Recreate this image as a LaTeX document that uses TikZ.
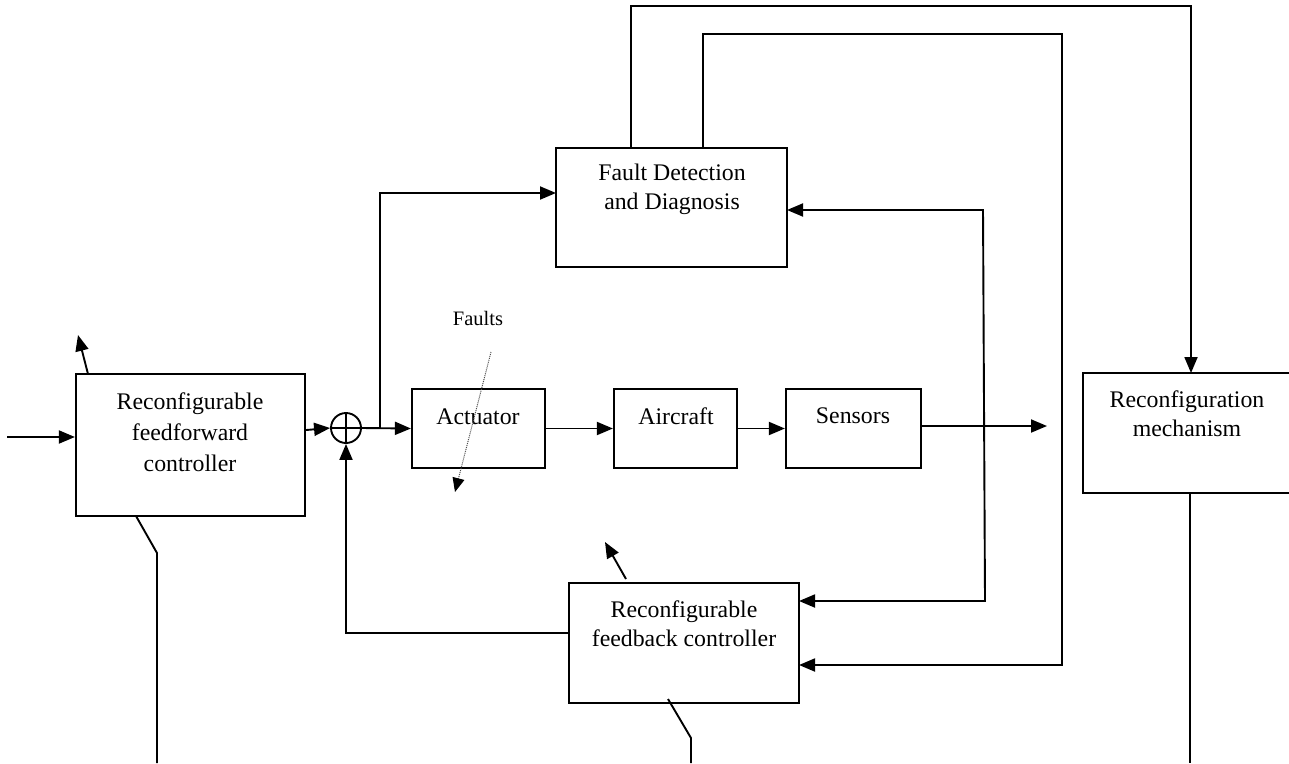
\documentclass[tikz,border=0pt]{standalone}
\usepackage{fontspec}
\setmainfont{Liberation Serif}
\usetikzlibrary{arrows.meta,calc}
\begin{document}
\begin{tikzpicture}[x=1pt,y=-1pt,
  box/.style={draw,line width=2.2pt,rectangle,inner sep=0pt},
  lbl/.style={align=center,inner sep=0pt,font=\fontsize{23.8}{29}\selectfont},
  wire/.style={line width=1.9pt},
  arr/.style={wire,-{Triangle[length=16pt,width=13pt]}},
  tip/.style={Triangle[length=16pt,width=13pt]}]
\useasboundingbox (0,0) rectangle (1289,763);
% boxes
\node[box,minimum width=229pt,minimum height=142pt] (ff) at (190.5,445) {};
\node[box,minimum width=231pt,minimum height=119pt] (fdd) at (671.5,207.5) {};
\node[box,minimum width=133pt,minimum height=79pt] (act) at (478.5,428.5) {};
\node[box,minimum width=123pt,minimum height=79pt] (air) at (675.5,428.5) {};
\node[box,minimum width=135pt,minimum height=79pt] (sen) at (853.5,428.5) {};
\node[box,minimum width=230pt,minimum height=120pt] (fb) at (684,643) {};
\node[box,minimum width=208pt,minimum height=120pt] (rm) at (1187,433) {};
\node[draw,line width=1.9pt,circle,minimum size=30pt,inner sep=0pt] (sum) at (346,428) {};
\draw[line width=1.9pt] (sum.north) -- (sum.south) (sum.west) -- (sum.east);
% labels
\node[lbl,font=\fontsize{23.8}{31}\selectfont] (tff) at (190,432) {Reconfigurable\\feedforward\\controller};
\node[lbl] (tfdd) at (672,189) {Fault Detection\\and Diagnosis};
\node[lbl] (tact) at (478,417) {Actuator};
\node[lbl] (tair) at (676,416) {Aircraft};
\node[lbl] (tsen) at (853,416) {Sensors};
\node[lbl] (tfb) at (684,624) {Reconfigurable\\feedback controller};
\node[lbl] (trm) at (1187,414) {Reconfiguration\\mechanism};
\node[lbl,font=\fontsize{20.5}{24}\selectfont] (tfaults) at (478,318) {Faults};
% coordinates
\coordinate (in) at (7,437);
\coordinate (br) at (380,428);
\coordinate (fddin) at (556,193);
\coordinate (out) at (1047,426);
\coordinate (o1) at (631,148);
\coordinate (o2) at (1191,6);
\coordinate (rmin) at (1191,373);
\coordinate (i1) at (703,148);
\coordinate (i2) at (1062,34);
\coordinate (i3) at (1062,665);
\coordinate (fbin2) at (799,665);
\coordinate (fddr) at (787,210);
\coordinate (l1) at (983,210);
\coordinate (l2) at (985,601);
\coordinate (fbin1) at (799,601);
\coordinate (fbout) at (569,633);
\coordinate (rmout) at (1190,493);
\coordinate (rmend) at (1190,763);
\coordinate (ffb1) at (136,516);
\coordinate (ffb2) at (157,553);
\coordinate (ffb3) at (157,763);
\coordinate (fbb1) at (668,699);
\coordinate (fbb2) at (691,738);
\coordinate (fbb3) at (691,763);
\coordinate (fft) at (88,374);
\coordinate (fftt) at (78,335);
\coordinate (fbt) at (626,579);
\coordinate (fbtt) at (605,542);
\coordinate (fa1) at (491,352);
\coordinate (fa2) at (455,492);
% connectors
\draw[arr] (in) -- (in -| ff.west);
\draw[arr] (ff.east |- 0,430) -- (sum.west);
\draw[arr] (sum.east) -- (act.west);
\draw[arr] (br) |- (fddin);
\draw[arr] (act.east) -- (air.west);
\draw[arr] (air.east) -- (sen.west);
\draw[arr] (sen.east |- out) -- (out);
\draw[arr] (o1) |- (o2) -- (rmin);
\draw[arr] (i1) |- (i2) -- (i3) -- (fbin2);
\draw[wire,{Triangle[length=16pt,width=13pt]}-{Triangle[length=16pt,width=13pt]}] (fddr) -- (l1) -- (l2) -- (fbin1);
\draw[arr] (fbout) -| (sum.south);
\draw[wire] (rmout) -- (rmend);
\draw[wire] (ffb1) -- (ffb2) -- (ffb3);
\draw[wire] (fbb1) -- (fbb2) -- (fbb3);
\draw[arr] (fft) -- (fftt);
\draw[arr] (fbt) -- (fbtt);
\draw[line width=1pt,densely dotted,draw=black!70,-{Triangle[length=14pt,width=12pt,color=black,fill=black]}] (fa1) -- (fa2);
\end{tikzpicture}
\end{document}
